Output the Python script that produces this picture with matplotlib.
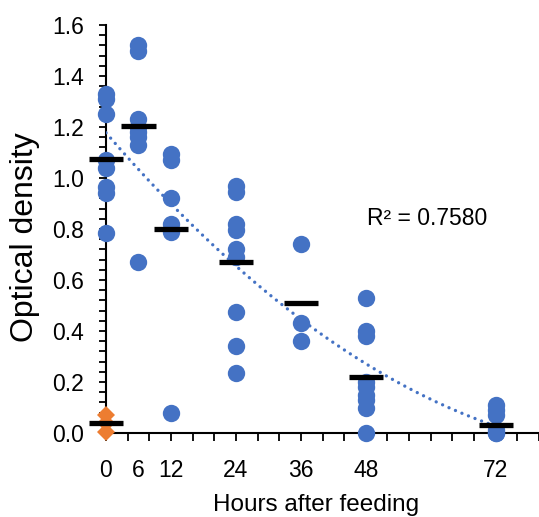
import numpy as np
import matplotlib
matplotlib.use("Agg")
import matplotlib.pyplot as plt

plt.rcParams['font.family'] = ['Liberation Sans', 'DejaVu Sans']

# ---- data ----
h0 = [1.33, 1.31, 1.25, 1.07, 1.04, 0.965, 0.94, 0.785]
h6 = [1.52, 1.50, 1.23, 1.20, 1.18, 1.16, 1.13, 0.67]
h12 = [1.095, 1.07, 0.92, 0.82, 0.79, 0.08]
h24 = [0.97, 0.945, 0.82, 0.795, 0.72, 0.69, 0.475, 0.34, 0.235]
h36 = [0.74, 0.43, 0.36]
h48 = [0.53, 0.40, 0.38, 0.20, 0.18, 0.15, 0.13, 0.10, 0.0]
h72 = [0.11, 0.09, 0.07, 0.01, 0.0, 0.0]
blue_hours = [0, 6, 12, 24, 36, 48, 72]
blue_values = [h0, h6, h12, h24, h36, h48, h72]

control_hours = [0, 0, 0]
control_values = [0.07, 0.04, 0.005]

mean_hours = [0, 0, 6, 12, 24, 36, 48, 72]
mean_values = [0.04, 1.075, 1.204, 0.80, 0.67, 0.51, 0.22, 0.031]

xtick_labels = ['0', '6', '12', '24', '36', '48', '72']
r2_text = 'R² = 0.7580'

BLUE = '#4472C4'
ORANGE = '#ED7D31'

fig = plt.figure(figsize=(5.39, 5.17), dpi=100)
ax = fig.add_axes([106/539, 1-433/517, 1-106/539, (433-25)/517])

# points
xs, ys = [], []
for h, vals in zip(blue_hours, blue_values):
    xs += [h]*len(vals)
    ys += list(vals)
xs = np.array(xs, float)
ys = np.array(ys, float)
ax.plot(xs, ys, 'o', color=BLUE, markersize=12.5, markeredgewidth=0, zorder=3, clip_on=False)
ax.plot(control_hours, control_values, 'D', color=ORANGE, markersize=9.5, markeredgewidth=0,
        zorder=3, clip_on=False)

# polynomial (order 2) trendline
coef = np.polyfit(xs, ys, 2)
xt = np.linspace(0, 72, 200)
ax.plot(xt, np.polyval(coef, xt), color=BLUE, lw=2.4, linestyle=(0, (0.01, 2.1)),
        dash_capstyle='round', zorder=4)

# mean bars
mh = np.array(mean_hours, float)
ax.hlines(mean_values, mh - 3.15, mh + 3.15, colors='black', lw=3.8, zorder=5, clip_on=False)

ax.text(48.2, 0.843, r2_text, fontsize=16.5, ha='left', va='center')

ax.set_xlim(0, 80)
ax.set_ylim(0, 1.6)
for s in ['top', 'right']:
    ax.spines[s].set_visible(False)
for s in ['left', 'bottom']:
    ax.spines[s].set_linewidth(1.5)

ax.xaxis.remove_overlapping_locs = False
ax.set_xticks(np.arange(0, 81, 4))
ax.set_xticklabels([])
ax.tick_params(axis='x', which='major', direction='out', length=5.5, width=1.3)
ax.set_xticks(blue_hours, minor=True)
ax.set_xticklabels(xtick_labels, minor=True)
ax.tick_params(axis='x', which='minor', length=0, pad=19, labelsize=16.5)

ax.set_yticks(np.arange(0, 1.61, 0.2))
ax.set_yticklabels([f'{v:.1f}' for v in np.arange(0, 1.61, 0.2)])
ax.set_yticks(np.arange(0, 1.601, 0.04), minor=True)
ax.tick_params(axis='y', which='both', direction='out', length=5, width=1.3, labelsize=16.5, pad=11)

fig.text(316/539, 1-505/517, 'Hours after feeding', fontsize=17.5, ha='center', va='center')
fig.text(25/539, 1-237/517, 'Optical density', fontsize=23, ha='center', va='center', rotation=90)

fig.savefig('out.png', dpi=100)
